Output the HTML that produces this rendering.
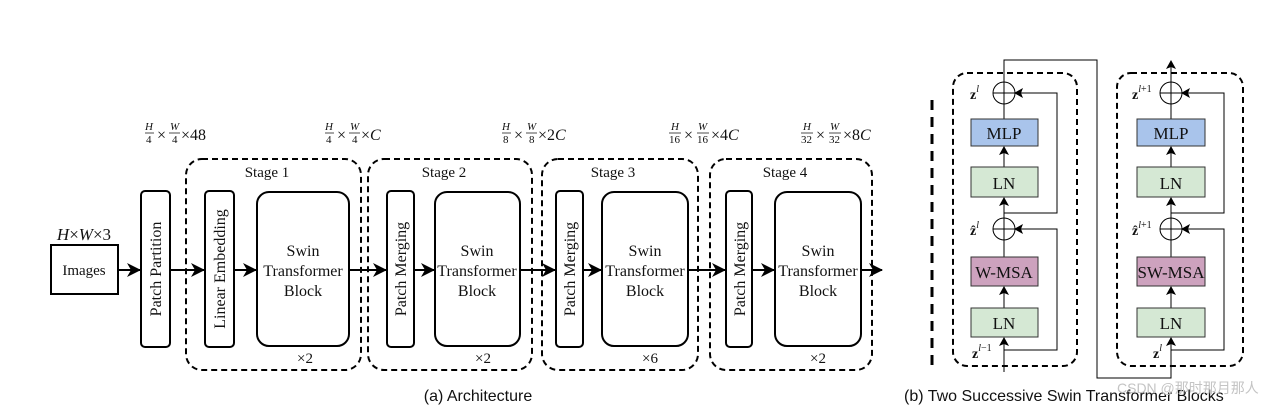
<!DOCTYPE html>
<html><head><meta charset="utf-8"><style>
html,body{margin:0;padding:0;background:#fff;}
svg{display:block;}
text{font-family:"Liberation Serif",serif;fill:#111;}
.s{font-family:"Liberation Sans",sans-serif;}
</style></head><body>
<svg width="1283" height="410" viewBox="0 0 1283 410" xmlns="http://www.w3.org/2000/svg">
<defs>
<marker id="a" markerWidth="14" markerHeight="14" refX="13" refY="7" orient="auto" markerUnits="userSpaceOnUse"><path d="M0,0 L14,7 L0,14 L4,7 z" fill="#000"/></marker>
<marker id="b" markerWidth="9" markerHeight="10" refX="8" refY="5" orient="auto" markerUnits="userSpaceOnUse"><path d="M0,0 L9,5 L0,10 L2,5 z" fill="#000"/></marker>
</defs>
<!-- dims labels -->
<g font-size="11">
<g transform="translate(145,0)"><text x="0" y="130" font-style="italic">H</text><line x1="0" y1="133" x2="9" y2="133" stroke="#000" stroke-width="0.7"/><text x="1" y="143">4</text><text x="12" y="140" font-size="16">×</text><text x="25" y="130" font-style="italic">W</text><line x1="24" y1="133" x2="35" y2="133" stroke="#000" stroke-width="0.7"/><text x="27" y="143">4</text><text x="36" y="140" font-size="16">×48</text></g>
<g transform="translate(325,0)"><text x="0" y="130" font-style="italic">H</text><line x1="0" y1="133" x2="9" y2="133" stroke="#000" stroke-width="0.7"/><text x="1" y="143">4</text><text x="12" y="140" font-size="16">×</text><text x="25" y="130" font-style="italic">W</text><line x1="24" y1="133" x2="35" y2="133" stroke="#000" stroke-width="0.7"/><text x="27" y="143">4</text><text x="36" y="140" font-size="16">×<tspan font-style="italic">C</tspan></text></g>
<g transform="translate(502,0)"><text x="0" y="130" font-style="italic">H</text><line x1="0" y1="133" x2="9" y2="133" stroke="#000" stroke-width="0.7"/><text x="1" y="143">8</text><text x="12" y="140" font-size="16">×</text><text x="25" y="130" font-style="italic">W</text><line x1="24" y1="133" x2="35" y2="133" stroke="#000" stroke-width="0.7"/><text x="27" y="143">8</text><text x="36" y="140" font-size="16">×2<tspan font-style="italic">C</tspan></text></g>
<g transform="translate(669,0)"><text x="2" y="130" font-style="italic">H</text><line x1="0" y1="133" x2="12" y2="133" stroke="#000" stroke-width="0.7"/><text x="0" y="143">16</text><text x="15" y="140" font-size="16">×</text><text x="29" y="130" font-style="italic">W</text><line x1="28" y1="133" x2="40" y2="133" stroke="#000" stroke-width="0.7"/><text x="28" y="143">16</text><text x="42" y="140" font-size="16">×4<tspan font-style="italic">C</tspan></text></g>
<g transform="translate(801,0)"><text x="2" y="130" font-style="italic">H</text><line x1="0" y1="133" x2="12" y2="133" stroke="#000" stroke-width="0.7"/><text x="0" y="143">32</text><text x="15" y="140" font-size="16">×</text><text x="29" y="130" font-style="italic">W</text><line x1="28" y1="133" x2="40" y2="133" stroke="#000" stroke-width="0.7"/><text x="28" y="143">32</text><text x="42" y="140" font-size="16">×8<tspan font-style="italic">C</tspan></text></g>
</g>
<!-- stage dashed boxes -->
<g fill="none" stroke="#000" stroke-width="2" stroke-dasharray="6,4">
<rect x="186" y="159" width="175" height="211" rx="16"/>
<rect x="368" y="159" width="164" height="211" rx="16"/>
<rect x="542" y="159" width="156" height="211" rx="16"/>
<rect x="710" y="159" width="162" height="211" rx="16"/>
</g>
<g font-size="15" text-anchor="middle">
<text x="267" y="177">Stage 1</text><text x="444" y="177">Stage 2</text><text x="613" y="177">Stage 3</text><text x="785" y="177">Stage 4</text>
<text x="305" y="363">×2</text><text x="483" y="363">×2</text><text x="650" y="363">×6</text><text x="818" y="363">×2</text>
</g>
<!-- input -->
<text x="84" y="240" font-size="17" text-anchor="middle"><tspan font-style="italic">H</tspan>×<tspan font-style="italic">W</tspan>×3</text>
<rect x="51" y="245" width="67" height="49" fill="#fff" stroke="#000" stroke-width="2"/>
<text x="84" y="275" font-size="15" text-anchor="middle">Images</text>
<!-- arrows -->
<g stroke="#000" stroke-width="2" marker-end="url(#a)">
<line x1="118" y1="270" x2="140" y2="270"/>
<line x1="170" y1="270" x2="204" y2="270"/>
<line x1="234" y1="270" x2="256" y2="270"/>
<line x1="349" y1="270" x2="386" y2="270"/>
<line x1="414" y1="270" x2="434" y2="270"/>
<line x1="520" y1="270" x2="555" y2="270"/>
<line x1="583" y1="270" x2="601" y2="270"/>
<line x1="688" y1="270" x2="725" y2="270"/>
<line x1="752" y1="270" x2="774" y2="270"/>
<line x1="861" y1="270" x2="882" y2="270"/>
</g>
<!-- vertical boxes -->
<g fill="#fff" stroke="#000" stroke-width="2">
<rect x="141" y="191" width="29" height="156" rx="4"/>
<rect x="205" y="191" width="29" height="156" rx="4"/>
<rect x="387" y="191" width="27" height="156" rx="4"/>
<rect x="556" y="191" width="27" height="156" rx="4"/>
<rect x="726" y="191" width="26" height="156" rx="4"/>
<rect x="257" y="192" width="92" height="154" rx="12"/>
<rect x="435" y="192" width="85" height="154" rx="12"/>
<rect x="602" y="192" width="86" height="154" rx="12"/>
<rect x="775" y="192" width="86" height="154" rx="12"/>
</g>
<g font-size="16" text-anchor="middle">
<text transform="translate(161,269) rotate(-90)">Patch Partition</text>
<text transform="translate(225,269) rotate(-90)">Linear Embedding</text>
<text transform="translate(406,269) rotate(-90)">Patch Merging</text>
<text transform="translate(575,269) rotate(-90)">Patch Merging</text>
<text transform="translate(745,269) rotate(-90)">Patch Merging</text>
<g font-size="16">
<text x="303" y="256">Swin</text><text x="303" y="276">Transformer</text><text x="303" y="296">Block</text>
<text x="477" y="256">Swin</text><text x="477" y="276">Transformer</text><text x="477" y="296">Block</text>
<text x="645" y="256">Swin</text><text x="645" y="276">Transformer</text><text x="645" y="296">Block</text>
<text x="818" y="256">Swin</text><text x="818" y="276">Transformer</text><text x="818" y="296">Block</text>
</g>
</g>
<!-- separator -->
<line x1="932" y1="100" x2="932" y2="372" stroke="#000" stroke-width="3" stroke-dasharray="10,7"/>
<!-- right dashed boxes -->
<g fill="none" stroke="#000" stroke-width="2" stroke-dasharray="6,4">
<rect x="953" y="73" width="124" height="293" rx="14"/>
<rect x="1117" y="73" width="126" height="293" rx="14"/>
</g>
<!-- block connectors -->
<g fill="none" stroke="#000" stroke-width="1">
<polyline points="1004,83 1004,60 1097,60 1097,378 1171,378 1171,350"/>
<line x1="1004" y1="372" x2="1004" y2="350"/>
<polyline points="1004,350 1057,350 1057,229 1015,229" marker-end="url(#b)"/>
<polyline points="1004,213 1057,213 1057,93 1015,93" marker-end="url(#b)"/>
<line x1="1004" y1="350" x2="1004" y2="338" marker-end="url(#b)"/>
<line x1="1004" y1="308" x2="1004" y2="287" marker-end="url(#b)"/>
<line x1="1004" y1="257" x2="1004" y2="239"/>
<line x1="1004" y1="219" x2="1004" y2="198" marker-end="url(#b)"/>
<line x1="1004" y1="167" x2="1004" y2="147" marker-end="url(#b)"/>
<line x1="1004" y1="119" x2="1004" y2="103"/>
<polyline points="1171,350 1224,350 1224,229 1182,229" marker-end="url(#b)"/>
<polyline points="1171,213 1224,213 1224,93 1182,93" marker-end="url(#b)"/>
<line x1="1171" y1="350" x2="1171" y2="338" marker-end="url(#b)"/>
<line x1="1171" y1="308" x2="1171" y2="287" marker-end="url(#b)"/>
<line x1="1171" y1="257" x2="1171" y2="239"/>
<line x1="1171" y1="219" x2="1171" y2="198" marker-end="url(#b)"/>
<line x1="1171" y1="167" x2="1171" y2="147" marker-end="url(#b)"/>
<line x1="1171" y1="119" x2="1171" y2="103"/>
<line x1="1171" y1="83" x2="1171" y2="61" marker-end="url(#b)"/>
<circle cx="1004" cy="93" r="11"/><line x1="993" y1="93" x2="1015" y2="93"/><line x1="1004" y1="82" x2="1004" y2="104"/>
<circle cx="1004" cy="229" r="11"/><line x1="993" y1="229" x2="1015" y2="229"/><line x1="1004" y1="218" x2="1004" y2="240"/>
<circle cx="1171" cy="93" r="11"/><line x1="1160" y1="93" x2="1182" y2="93"/><line x1="1171" y1="82" x2="1171" y2="104"/>
<circle cx="1171" cy="229" r="11"/><line x1="1160" y1="229" x2="1182" y2="229"/><line x1="1171" y1="218" x2="1171" y2="240"/>
</g>
<g stroke="#333" stroke-width="1">
<rect x="971" y="119" width="67" height="27" fill="#a9c4eb"/>
<rect x="971" y="167" width="67" height="30" fill="#d5e8d4"/>
<rect x="971" y="257" width="67" height="29" fill="#cda2be"/>
<rect x="971" y="308" width="67" height="29" fill="#d5e8d4"/>
<rect x="1137" y="119" width="68" height="27" fill="#a9c4eb"/>
<rect x="1137" y="167" width="68" height="30" fill="#d5e8d4"/>
<rect x="1137" y="257" width="68" height="29" fill="#cda2be"/>
<rect x="1137" y="308" width="68" height="29" fill="#d5e8d4"/>
</g>
<g font-size="17" text-anchor="middle">
<text x="1004" y="139">MLP</text><text x="1004" y="189">LN</text><text x="1004" y="278">W-MSA</text><text x="1004" y="329">LN</text>
<text x="1171" y="139">MLP</text><text x="1171" y="189">LN</text><text x="1171" y="278">SW-MSA</text><text x="1171" y="329">LN</text>
</g>
<g font-size="14" font-weight="bold">
<text x="970" y="99">z<tspan font-size="10" dy="-7" font-weight="normal" font-style="italic">l</tspan></text>
<text x="970" y="235">ẑ<tspan font-size="10" dy="-7" font-weight="normal" font-style="italic">l</tspan></text>
<text x="972" y="358">z<tspan font-size="10" dy="-7" font-weight="normal"><tspan font-style="italic">l</tspan>−1</tspan></text>
<text x="1132" y="99">z<tspan font-size="10" dy="-7" font-weight="normal"><tspan font-style="italic">l</tspan>+1</tspan></text>
<text x="1132" y="235">ẑ<tspan font-size="10" dy="-7" font-weight="normal"><tspan font-style="italic">l</tspan>+1</tspan></text>
<text x="1153" y="358">z<tspan font-size="10" dy="-7" font-weight="normal" font-style="italic">l</tspan></text>
</g>
<!-- captions -->
<text class="s" x="478" y="401" font-size="16" text-anchor="middle">(a) Architecture</text>
<text class="s" x="904" y="401" font-size="16">(b) Two Successive Swin Transformer Blocks</text>
<text class="s" x="1117" y="393" font-size="14" style="fill:#c4c4c4">CSDN @那时那月那人</text>
</svg>
</body></html>
